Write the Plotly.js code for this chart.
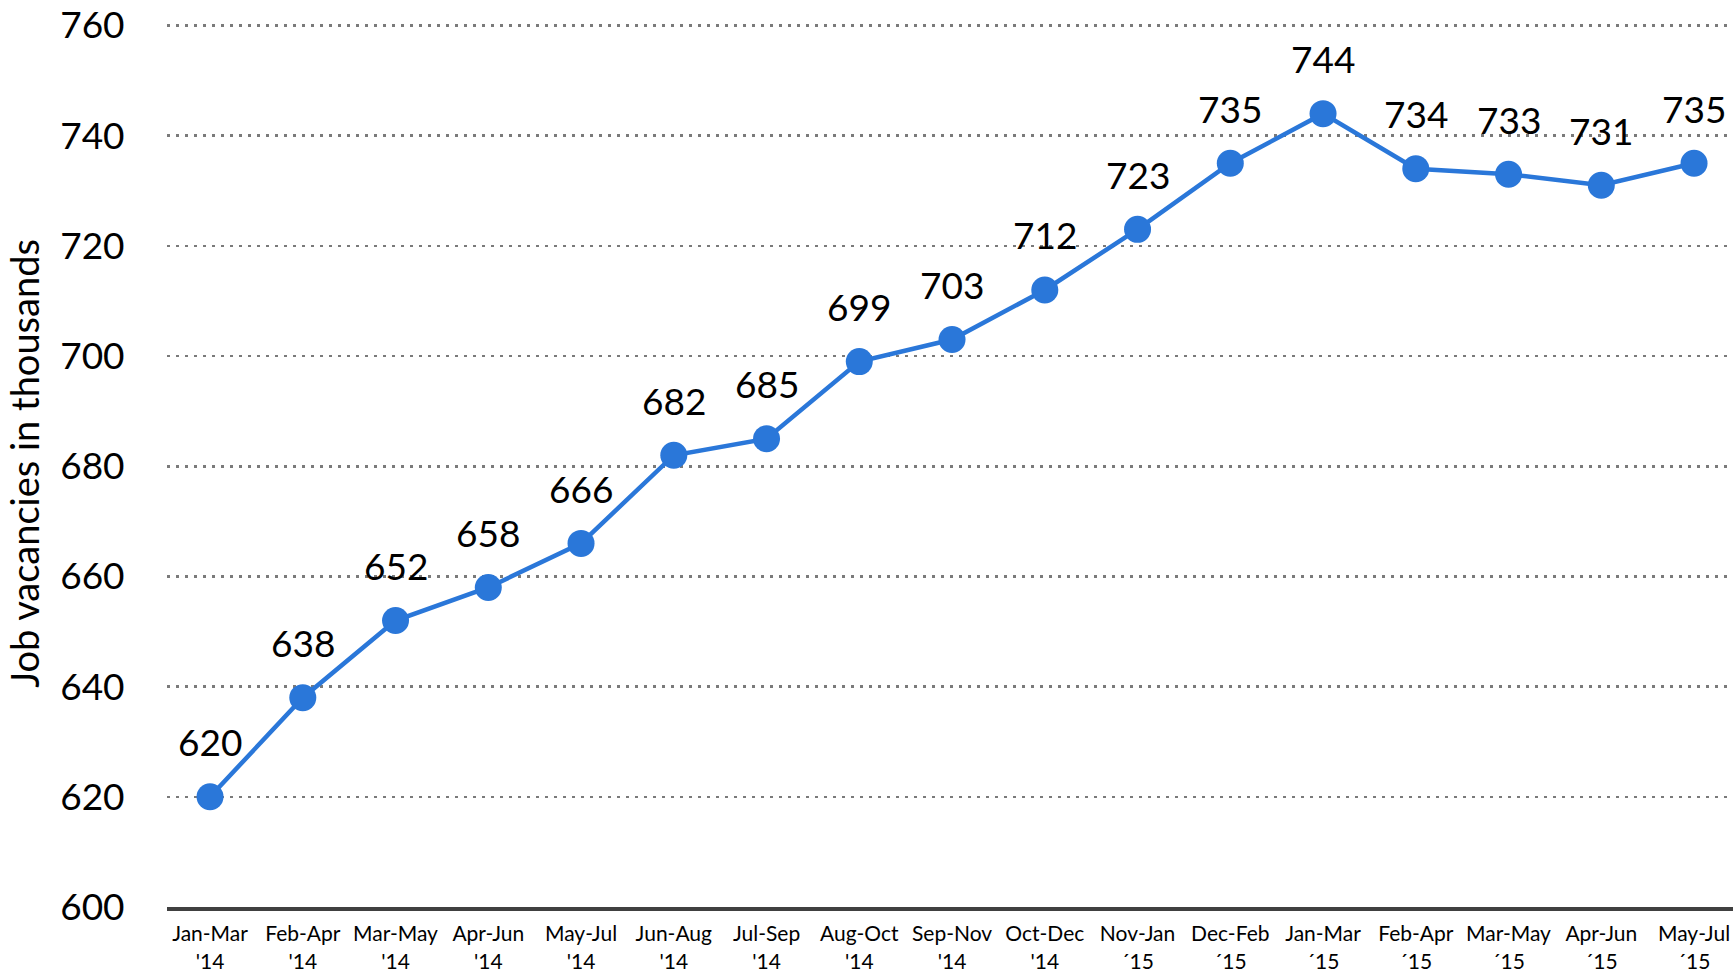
<!DOCTYPE html>
<html>
<head>
<meta charset="utf-8">
<script src="https://cdn.plot.ly/plotly-3.0.1.min.js"></script>
<style>html,body{margin:0;padding:0;background:#fff}#chart{width:1733px;height:975px}</style>
</head>
<body>
<div id="chart"></div>
<script>
const periods = ["Jan-Mar<br>'14","Feb-Apr<br>'14","Mar-May<br>'14","Apr-Jun<br>'14","May-Jul<br>'14","Jun-Aug<br>'14","Jul-Sep<br>'14","Aug-Oct<br>'14","Sep-Nov<br>'14","Oct-Dec<br>'14","Nov-Jan<br>´15","Dec-Feb<br>´15","Jan-Mar<br>´15","Feb-Apr<br>´15","Mar-May<br>´15","Apr-Jun<br>´15","May-Jul<br>´15"];
const vacancies = [620,638,652,658,666,682,685,699,703,712,723,735,744,734,733,731,735];
const yTicks = [600,620,640,660,680,700,720,740,760];

const xIdx = periods.map((_, i) => i);
const FONT = "Lato, 'Open Sans', sans-serif";
const BLUE = "#2a77d9";

const trace = {
  x: xIdx, y: vacancies, type: "scatter", mode: "lines+markers",
  line: {color: BLUE, width: 4.5},
  marker: {color: BLUE, size: 27},
  hoverinfo: "skip", cliponaxis: false
};

const annotations = vacancies.map((v, i) => ({
  x: i, y: v, xref: "x", yref: "y", text: String(v), showarrow: false,
  yshift: 55, font: {family: FONT, size: 37, color: "#000"}
}));

const layout = {
  width: 1733, height: 975,
  margin: {l: 167, r: 0, t: 19.5, b: 68},
  paper_bgcolor: "#fff", plot_bgcolor: "#fff",
  showlegend: false,
  font: {family: FONT, color: "#000"},
  xaxis: {
    range: [-0.464, 16.42], tickmode: "array", tickvals: xIdx, ticktext: periods,
    showgrid: false, zeroline: false, showline: true, linecolor: "#404040", linewidth: 4,
    ticks: "outside", ticklen: 5, tickcolor: "rgba(0,0,0,0)",
    tickfont: {family: FONT, size: 21, color: "#000"}, tickangle: 0, fixedrange: true
  },
  yaxis: {
    range: [600, 761], tickmode: "array", tickvals: yTicks,
    showgrid: true, gridcolor: "#7a7a7a", gridwidth: 2.5, griddash: "2.5px,6.5px",
    zeroline: false, showline: false,
    ticks: "outside", ticklen: 34, tickcolor: "rgba(0,0,0,0)",
    tickfont: {family: FONT, size: 37, color: "#000"},
    title: {text: "Job vacancies in thousands", font: {family: FONT, size: 38, color: "#000"}, standoff: 8},
    fixedrange: true
  },
  annotations: annotations
};

Plotly.newPlot("chart", [trace], layout, {displayModeBar: false, staticPlot: true});
</script>
</body>
</html>
